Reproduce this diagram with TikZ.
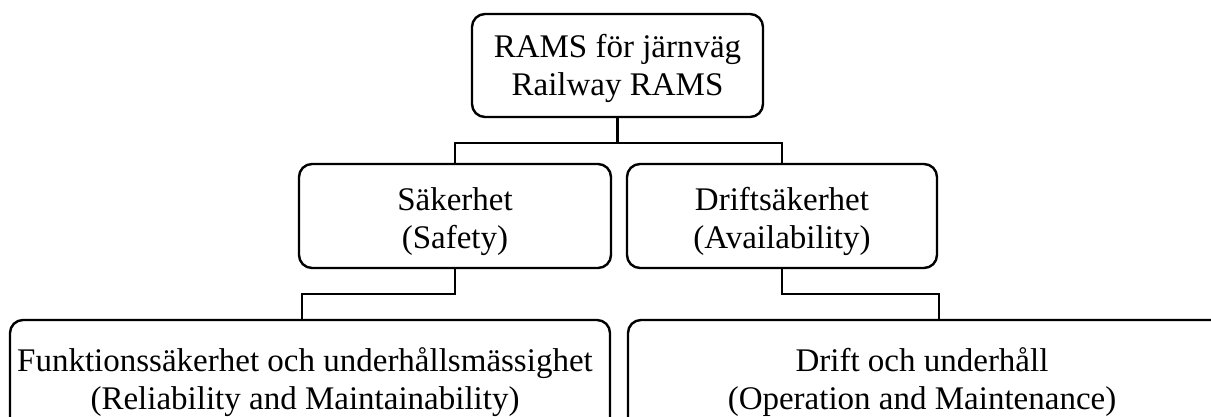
\documentclass[tikz,border=0pt]{standalone}
\usepackage{fontspec}
\setmainfont{Liberation Serif}
\begin{document}
\begin{tikzpicture}[x=1pt,y=-1pt,
  box/.style={draw=black,line width=2.4pt,rounded corners=13pt,minimum width=#1,inner sep=0pt},
  lbl/.style={align=center,anchor=base,inner sep=0pt,font=\fontsize{33}{38}\selectfont},
  conn/.style={draw=black,line width=2.4pt}]
\useasboundingbox (0,0) rectangle (1211,416);
\fill[white] (0,0) rectangle (1211,416);
\clip (0,0) rectangle (1211,416);
% boxes
\node[box=291pt,minimum height=103pt] (top) at (617.5,65.5) {};
\node[box=312pt,minimum height=104pt] (ml) at (455,216) {};
\node[box=310pt,minimum height=104pt] (mr) at (782,216) {};
\node[box=600pt,minimum height=140pt] (bl) at (310,390) {};
\node[box=622pt,minimum height=140pt] (br) at (939,390) {};
% texts (base = baseline of last line)
\node[lbl] (ttop) at (617.5,95) {RAMS för järnväg\\Railway RAMS};
\node[lbl] (tml) at (455,248) {Säkerhet\\(Safety)};
\node[lbl] (tmr) at (782,248) {Driftsäkerhet\\(Availability)};
\node[lbl] (tbl) at (305,409) {Funktionssäkerhet och underhållsmässighet\\(Reliability and Maintainability)};
\node[lbl] (tbr) at (922,409) {Drift och underhåll\\(Operation and Maintenance)};
% connectors
\coordinate (j1) at ([yshift=-25pt]top.south);
\draw[conn] (top.south) -- (j1) -| (ml.north);
\draw[conn] (j1) -| (mr.north);
\coordinate (bljoin) at (302,320);
\coordinate (brjoin) at (939,320);
\draw[conn] (ml.south) -- ++(0,25) -| (bljoin);
\draw[conn] (mr.south) -- ++(0,25) -| (brjoin);
\end{tikzpicture}
\end{document}
